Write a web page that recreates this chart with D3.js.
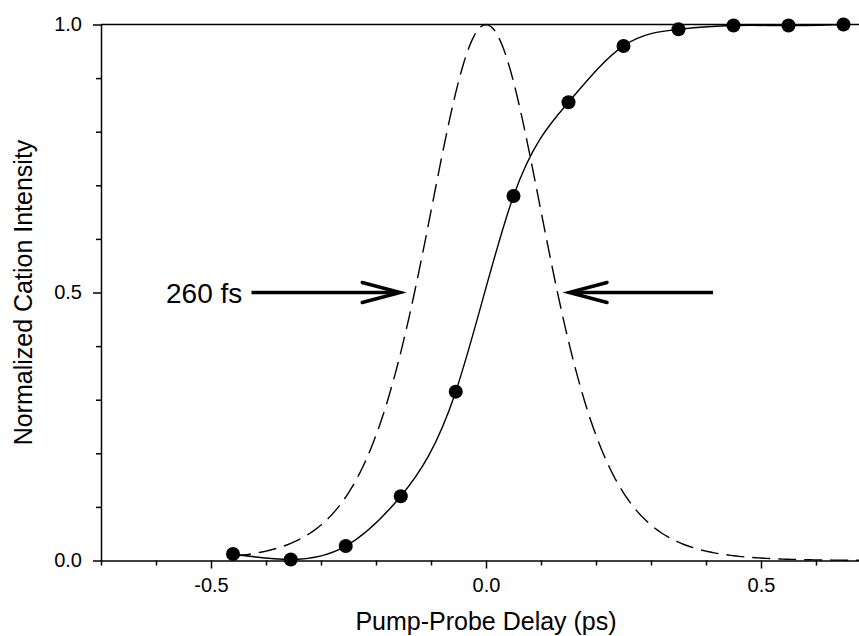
<!DOCTYPE html>
<html>
<head>
<meta charset="utf-8">
<script src="https://cdn.jsdelivr.net/npm/d3@7"></script>
<style>
  html, body { margin: 0; padding: 0; background: #fff; }
  svg { display: block; font-family: Arial, "Liberation Sans", sans-serif; }
</style>
</head>
<body>
<svg id="chart" width="859" height="636"></svg>
<script>
// Measured cation signal versus pump-probe delay
const delays = [-0.46, -0.355, -0.255, -0.155, -0.055, 0.05, 0.15, 0.25, 0.35, 0.45, 0.55, 0.65];
const intensity = [0.012, 0.002, 0.027, 0.12, 0.315, 0.68, 0.855, 0.96, 0.991, 0.998, 0.998, 1.0];

// Cross-correlation pulse width stated on the plot (ps), sech^2 profile
const pulseFwhmPs = 0.26;
const pulseRange = [-0.46, 0.7];

const xTicks = [-0.5, 0.0, 0.5];
const yTicks = [0.0, 0.5, 1.0];
const widthLabel = "260 fs";

const svg = d3.select("#chart");
const x = d3.scaleLinear().domain([-0.7, 0.7]).range([101, 871]);
const y = d3.scaleLinear().domain([0, 1]).range([560.5, 24.5]);

// Plain hyphen for negative numbers
const fmt = v => d3.format(".1f")(v).replace("\u2212", "-");
const tickFont = 20;

// Minor ticks every 0.1
const xMinor = d3.range(-7, 8).map(i => i / 10).filter(v => !xTicks.some(t => Math.abs(t - v) < 1e-9));
const yMinor = d3.range(1, 10).map(i => i / 10).filter(v => !yTicks.some(t => Math.abs(t - v) < 1e-9));

// Bottom axis
const gx = svg.append("g").attr("transform", `translate(0,${y(0)})`);
gx.call(d3.axisBottom(x).tickValues(xTicks).tickFormat(fmt).tickSize(8).tickSizeOuter(0).tickPadding(9));
gx.append("g").call(d3.axisBottom(x).tickValues(xMinor).tickSize(5).tickFormat("")).select(".domain").remove();

// Left axis
const gy = svg.append("g").attr("transform", `translate(${x(-0.7)},0)`);
gy.call(d3.axisLeft(y).tickValues(yTicks).tickFormat(fmt).tickSize(8).tickSizeOuter(0).tickPadding(11));
gy.append("g").call(d3.axisLeft(y).tickValues(yMinor).tickSize(5).tickFormat("")).select(".domain").remove();

// Top border
svg.append("line")
  .attr("x1", x(-0.7)).attr("x2", x(0.7))
  .attr("y1", y(1)).attr("y2", y(1))
  .attr("stroke", "#000").attr("stroke-width", 1.5);

svg.selectAll(".domain, .tick line").attr("stroke", "#000").attr("stroke-width", 1.5);
svg.selectAll(".tick text").attr("font-size", tickFont).attr("fill", "#000")
  .attr("font-family", "Arial, 'Liberation Sans', sans-serif");

// Axis titles
svg.append("text")
  .attr("x", x(0)).attr("y", 630)
  .attr("text-anchor", "middle").attr("font-size", 25)
  .text("Pump-Probe Delay (ps)");
svg.append("text")
  .attr("transform", `translate(32,${y(0.5)}) rotate(-90)`)
  .attr("text-anchor", "middle").attr("font-size", 25)
  .text("Normalized Cation Intensity");

const plot = svg.append("g");

// Pulse profile (dashed)
const tau = pulseFwhmPs / (2 * Math.acosh(Math.SQRT2));
const pulseX = d3.range(pulseRange[0], pulseRange[1] + 1e-9, 0.005);
const pulse = pulseX.map(t => [t, Math.pow(1 / Math.cosh(t / tau), 2)]);
plot.append("path")
  .datum(pulse)
  .attr("fill", "none").attr("stroke", "#000").attr("stroke-width", 1.4)
  .attr("stroke-dasharray", "18,8")
  .attr("d", d3.line().x(d => x(d[0])).y(d => y(d[1])));

// Smooth curve through the measured points
const pts = delays.map((d, i) => [d, intensity[i]]);
plot.append("path")
  .datum(pts)
  .attr("fill", "none").attr("stroke", "#000").attr("stroke-width", 1.4)
  .attr("d", d3.line().x(d => x(d[0])).y(d => y(d[1])).curve(d3.curveNatural));

plot.selectAll("circle")
  .data(pts).join("circle")
  .attr("cx", d => x(d[0])).attr("cy", d => y(d[1]))
  .attr("r", 7).attr("fill", "#000");

// Width annotation: arrows pointing at the half-maximum points
const halfY = y(0.5);
const arrows = [
  { from: 251.5, tip: x(-0.156) },
  { from: 713, tip: x(0.151) }
];
arrows.forEach(a => {
  const dir = Math.sign(a.tip - a.from);
  plot.append("line")
    .attr("x1", a.from).attr("x2", a.tip - dir * 2)
    .attr("y1", halfY).attr("y2", halfY)
    .attr("stroke", "#000").attr("stroke-width", 3.4);
  plot.append("path")
    .attr("d", `M${a.tip - dir * 38},${halfY - 10}L${a.tip},${halfY}L${a.tip - dir * 38},${halfY + 10}`)
    .attr("fill", "none").attr("stroke", "#000").attr("stroke-width", 3.4)
    .attr("stroke-linecap", "round").attr("stroke-linejoin", "miter");
});

svg.append("text")
  .attr("x", 166).attr("y", halfY + 10)
  .attr("font-size", 28)
  .text(widthLabel);
</script>
</body>
</html>
